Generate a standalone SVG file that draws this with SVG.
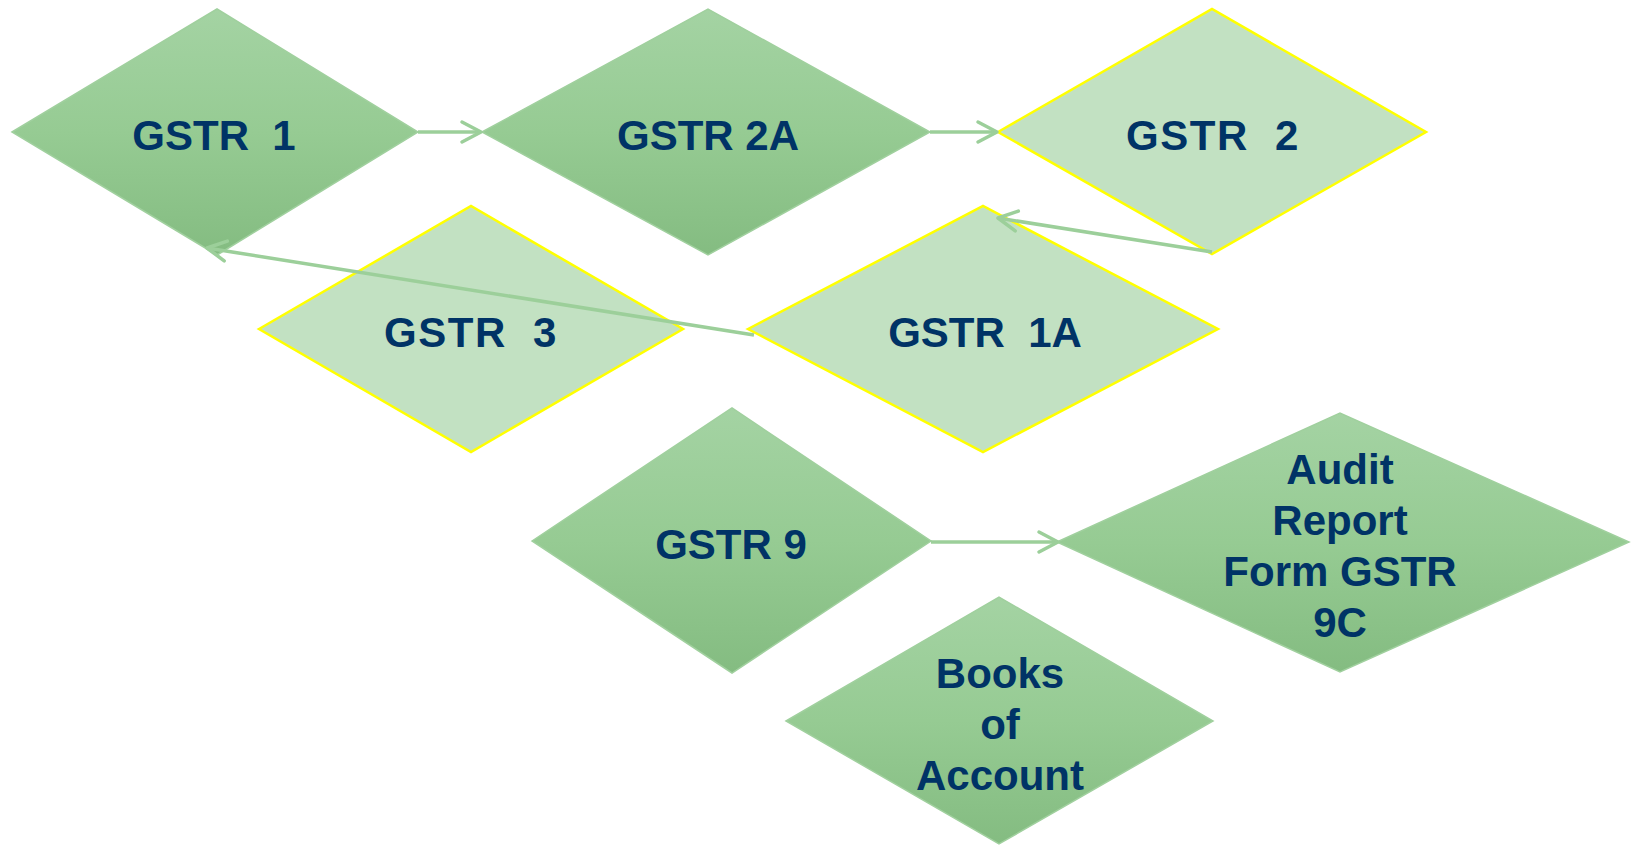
<svg xmlns="http://www.w3.org/2000/svg" width="1633" height="845" viewBox="0 0 1633 845">
<style>
.dark{fill:url(#g);stroke:#a0d09e;stroke-width:1.5}
.light{fill:#c2e1c2;stroke:#ffff00;stroke-width:2.5}
.t{font-family:"Liberation Sans",Arial,sans-serif;font-weight:bold;font-size:42px;fill:#003366;text-anchor:middle}
.sp{letter-spacing:1.5px}
.c{fill:none;stroke:#9ccf9a;stroke-width:3.5}
</style>
<defs>
<linearGradient id="g" x1="0" y1="0" x2="0" y2="1">
<stop offset="0" stop-color="#a4d3a3"/>
<stop offset="0.5" stop-color="#96cb93"/>
<stop offset="1" stop-color="#84bc81"/>
</linearGradient>
<marker id="a" markerUnits="userSpaceOnUse" markerWidth="30" markerHeight="30" viewBox="-25 -15 30 30" refX="0" refY="0" orient="auto" overflow="visible">
<path d="M-19,-10 L0,0 L-19,10" fill="none" stroke="#9ccf9a" stroke-width="3.5" stroke-linecap="round" stroke-linejoin="round"/>
</marker>
</defs>
<rect width="1633" height="845" fill="#ffffff"/>
<g id="gstr1">
<polygon class="dark" points="12,132 217,9 418,132 217,255"/>
<text class="t" x="214" y="150" xml:space="preserve">GSTR  1</text>
</g>
<g id="gstr2a">
<polygon class="dark" points="482,132 708,9 930,132 708,255"/>
<text class="t" x="708" y="150">GSTR 2A</text>
</g>
<g id="gstr2">
<polygon class="light" points="998,132 1212,9 1426,132 1212,254"/>
<text class="t sp" x="1213" y="150" xml:space="preserve">GSTR  2</text>
</g>
<g id="gstr3">
<polygon class="light" points="259,329 471,206 683,329 471,452"/>
<text class="t sp" x="471" y="347" xml:space="preserve">GSTR  3</text>
</g>
<g id="gstr1a">
<polygon class="light" points="748,329 983,206 1218,329 983,452"/>
<text class="t" x="985" y="347" xml:space="preserve">GSTR  1A</text>
</g>
<g id="gstr9">
<polygon class="dark" points="532,541 732,408 931,541 732,673"/>
<text class="t" x="731" y="559">GSTR 9</text>
</g>
<g id="audit">
<polygon class="dark" points="1057,542 1340,413 1629,542 1340,672"/>
<text class="t" x="1340" y="484">Audit</text>
<text class="t" x="1340" y="535">Report</text>
<text class="t" x="1340" y="586">Form GSTR</text>
<text class="t" x="1340" y="637">9C</text>
</g>
<g id="books">
<polygon class="dark" points="786,721 999,597 1213,721 999,844"/>
<text class="t" x="1000" y="688">Books</text>
<text class="t" x="1000" y="739">of</text>
<text class="t" x="1000" y="790">Account</text>
</g>
<g id="connectors">
<line class="c" x1="418" y1="132" x2="481" y2="132" marker-end="url(#a)"/>
<line class="c" x1="930" y1="132" x2="997" y2="132" marker-end="url(#a)"/>
<line class="c" x1="1212" y1="252" x2="998" y2="218" marker-end="url(#a)"/>
<line class="c" x1="754" y1="335" x2="207" y2="248" marker-end="url(#a)"/>
<line class="c" x1="931" y1="542" x2="1058" y2="542" marker-end="url(#a)"/>
</g>
</svg>
